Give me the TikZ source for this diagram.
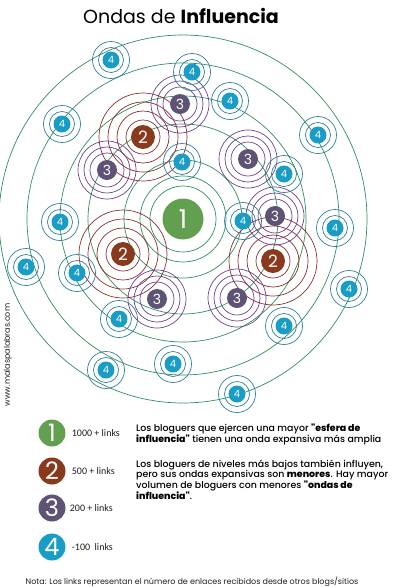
\documentclass[tikz,border=0pt]{standalone}
\usepackage{fontspec}
\setmainfont{Poppins}
\newfontfamily\parafont{Poppins Medium}[BoldFont={Poppins ExtraBold}]
\newfontfamily\labfont{Carlito}
\usetikzlibrary{positioning, backgrounds}
\definecolor{c1}{HTML}{62A04F}
\definecolor{c2}{HTML}{8A3A1C}
\definecolor{c3}{HTML}{5E5275}
\definecolor{c4}{HTML}{199DC6}
\definecolor{r1}{HTML}{2F8F5B}
\definecolor{r2}{HTML}{8C2F2A}
\definecolor{r3}{HTML}{6B3F92}
\definecolor{r4}{HTML}{2F7F98}
\definecolor{textcolor}{HTML}{1E1E1E}

\begin{document}
\begin{tikzpicture}[x=1pt, y=-1pt,
    every node/.style={text=textcolor},
    lvone/.style={circle, fill=c1, text=white, minimum size=41pt, inner sep=0pt,
                  font=\fontsize{26}{26}\selectfont},
    lvtwo/.style={circle, fill=c2, text=white, minimum size=24pt, inner sep=0pt,
                  font=\fontsize{17}{17}\selectfont},
    lvthree/.style={circle, fill=c3, text=white, minimum size=20pt, inner sep=0pt,
                  font=\fontsize{14}{14}\selectfont},
    lvfour/.style={circle, fill=c4, text=white, minimum size=17pt, inner sep=0pt,
                  font=\fontsize{10}{10}\selectfont},
    legend/.style={circle, minimum size=27pt, inner sep=0pt, text=white,
                  font=\fontsize{24}{24}\selectfont},
    ringone/.style={draw=r1, line width=0.7pt},
    ringtwo/.style={draw=r2, line width=0.7pt},
    ringthree/.style={draw=r3, line width=0.7pt},
    ringfour/.style={draw=r4, line width=0.7pt},
    lab/.style={font=\labfont\fontsize{10}{10}\selectfont, inner sep=1pt},
    para/.style={font=\parafont\fontsize{9.4}{10}\selectfont, align=left, inner sep=0pt,
                 anchor=north west, text=black},
]
\useasboundingbox (0,0) rectangle (400,587);

% ---------------- title
\node[font=\fontsize{19}{19}\selectfont, text=black] (title) at (181,16)
    {Ondas de \textbf{Influencia}};

% ---------------- bloggers
\node[lvone] (c) at (183,219) {1};
\foreach \p [count=\i] in {(143,137),(123,254),(273,261)}
    \node[lvtwo] (d\i) at \p {2};
\foreach \p [count=\i] in {(180,104),(248,159),(107,170),(275,216),(157,299),(237,298)}
    \node[lvthree] (t\i) at \p {3};
\foreach \p [count=\i] in {(111,60),(192,72),(230,101),(62,124),(318,135),(182,162),
                           (284,174),(60,222),(243,221),(335,228),(26,267),(77,273),
                           (349,289),(119,319),(284,326),(106,370),(173,364),(237,394)}
    \node[lvfour] (f\i) at \p {4};

% ---------------- waves
\begin{scope}[on background layer]
\foreach \r in {33,43,59,95,123,156,184}
    \draw[ringone] (c.center) circle (\r pt);
\foreach \i in {1,...,3}
    \foreach \r in {17,26,35,44}
        \draw[ringtwo] (d\i.center) circle (\r pt);
\foreach \i in {1,...,6}
    \foreach \r in {17,23,29}
        \draw[ringthree] (t\i.center) circle (\r pt);
\foreach \i in {1,...,18}
    \foreach \r in {12.5,18.5}
        \draw[ringfour] (f\i.center) circle (\r pt);
\end{scope}

% ---------------- legend
\node[legend, fill=c1] (l1) at (52,433) {1};
\node[legend, fill=c2] (l2) at (52,471) {2};
\node[legend, fill=c3] (l3) at (52,508) {3};
\node[legend, fill=c4] (l4) at (52,547) {4};
\node[lab, right=5pt of l1] {1000 + links};
\node[lab, right=5pt of l2] {500 + links};
\node[lab, right=3pt of l3] {200 + links};
\node[lab, right=5pt of l4] {-100\ \ links};

\node[para] (p1) at (136,424)
    {Los bloguers que ejercen una mayor \textbf{"esfera de}\\
     \textbf{influencia"} tienen una onda expansiva más amplia};
\node[para] (p2) at (136,460)
    {Los bloguers de niveles más bajos también influyen,\\
     pero sus ondas expansivas son \textbf{menores}. Hay mayor\\
     volumen de bloguers con menores \textbf{"ondas de}\\
     \textbf{influencia"}.};

% ---------------- side and foot notes
\node[font=\fontsize{8}{8}\selectfont, rotate=90] (web) at (8,355) {www.malaspalabras.com};
\node[font=\fontsize{8}{8}\selectfont] (nota) at (192,582)
    {Nota: Los links representan el número de enlaces recibidos desde otros blogs/sitios};
\end{tikzpicture}
\end{document}
